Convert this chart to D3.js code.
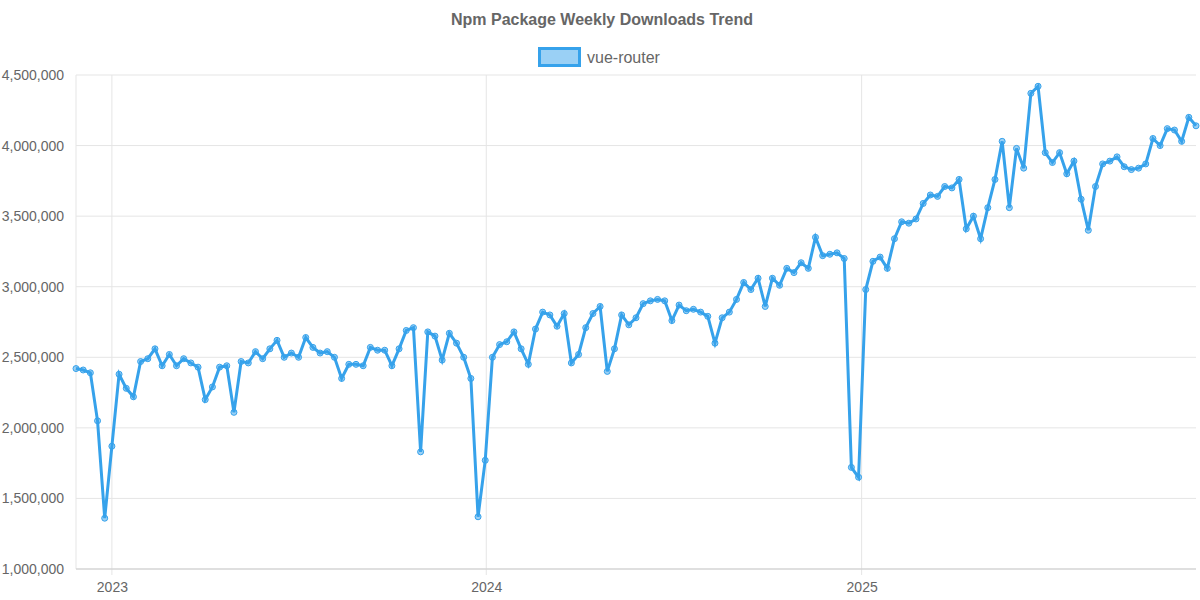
<!DOCTYPE html>
<html><head><meta charset="utf-8">
<script src="https://cdn.jsdelivr.net/npm/d3@7"></script>
<style>body{margin:0;background:#fff;font-family:"Liberation Sans",Arial,sans-serif}</style>
</head><body><svg id="c" width="1200" height="600"></svg>
<script>
const seriesName = "vue-router";
const startDate = "2022-11-27";
const values = [2.42,2.41,2.39,2.05,1.36,1.87,2.38,2.28,2.22,2.47,2.49,2.56,2.44,2.52,2.44,2.49,2.46,2.43,2.20,2.29,
2.43,2.44,2.11,2.47,2.46,2.54,2.49,2.56,2.62,2.50,2.53,2.50,2.64,2.57,2.53,2.54,2.50,2.35,2.45,2.45,
2.44,2.57,2.55,2.55,2.44,2.56,2.69,2.71,1.83,2.68,2.65,2.48,2.67,2.60,2.50,2.35,1.37,1.77,2.50,2.59,
2.61,2.68,2.56,2.45,2.70,2.82,2.80,2.72,2.81,2.46,2.52,2.71,2.81,2.86,2.40,2.56,2.80,2.73,2.78,2.88,
2.90,2.91,2.90,2.76,2.87,2.83,2.84,2.82,2.79,2.60,2.78,2.82,2.91,3.03,2.98,3.06,2.86,3.06,3.01,3.13,
3.10,3.17,3.13,3.35,3.22,3.23,3.24,3.20,1.72,1.65,2.98,3.18,3.21,3.13,3.34,3.46,3.45,3.48,3.59,3.65,
3.64,3.71,3.70,3.76,3.41,3.50,3.34,3.56,3.76,4.03,3.56,3.98,3.84,4.37,4.42,3.95,3.88,3.95,3.80,3.89,
3.62,3.40,3.71,3.87,3.89,3.92,3.85,3.83,3.84,3.87,4.05,4.00,4.12,4.11,4.03,4.20,4.14].map(v=>v*1e6);
const yTicks = [1000000,1500000,2000000,2500000,3000000,3500000,4000000,4500000];
const xTickYears = [2023,2024,2025];

const t0 = new Date(startDate+"T00:00:00");
const data = values.map((v,i)=>({d:new Date(t0.getTime()+i*7*864e5), v}));
const svg = d3.select("#c");
const L=76,R=1196,T=75,B=569;
const x = d3.scaleTime().domain(d3.extent(data,d=>d.d)).range([L,R]);
const y = d3.scaleLinear().domain([1000000,4500000]).range([B,T]);
const col="#36A2EB";

svg.append("text").attr("x",602).attr("y",25).attr("text-anchor","middle")
  .attr("font-size",16).attr("font-weight","bold").attr("fill","#666").text("Npm Package Weekly Downloads Trend");
svg.append("rect").attr("x",539.5).attr("y",48.5).attr("width",40).attr("height",17)
  .attr("fill","rgba(54,162,235,0.5)").attr("stroke",col).attr("stroke-width",3);
svg.append("text").attr("x",587).attr("y",63).attr("font-size",16).attr("fill","#666").text(seriesName);

// grid
svg.append("g").selectAll("line").data(yTicks).join("line")
  .attr("x1",L).attr("x2",R).attr("y1",d=>y(d)).attr("y2",d=>y(d)).attr("stroke","#e5e5e5");
const xt = xTickYears.map(yr=>new Date(yr,0,1));
svg.append("g").selectAll("line").data(xt).join("line")
  .attr("x1",d=>x(d)).attr("x2",d=>x(d)).attr("y1",T).attr("y2",B+6).attr("stroke","#e5e5e5");
svg.append("line").attr("x1",L).attr("x2",L).attr("y1",T).attr("y2",B).attr("stroke","#e5e5e5");
svg.append("line").attr("x1",L).attr("x2",R).attr("y1",B).attr("y2",B).attr("stroke","#ccc");

const yAxis = svg.append("g").attr("transform",`translate(${L},0)`)
  .call(d3.axisLeft(y).tickValues(yTicks).tickFormat(d3.format(",")).tickSize(0).tickPadding(12));
yAxis.select(".domain").remove();
yAxis.selectAll("text").attr("font-size",14).attr("fill","#666").attr("font-family","Liberation Sans, Arial");
const xAxis = svg.append("g").attr("transform",`translate(0,${B})`)
  .call(d3.axisBottom(x).tickValues(xt).tickFormat(d3.timeFormat("%Y")).tickSize(0).tickPadding(13));
xAxis.select(".domain").remove();
xAxis.selectAll("text").attr("font-size",14).attr("fill","#666").attr("font-family","Liberation Sans, Arial");

svg.append("path").datum(data).attr("fill","none").attr("stroke",col).attr("stroke-width",3)
  .attr("stroke-linejoin","miter").attr("d",d3.line().x(d=>x(d.d)).y(d=>y(d.v)));
svg.append("g").selectAll("circle").data(data).join("circle")
  .attr("cx",d=>x(d.d)).attr("cy",d=>y(d.v)).attr("r",3)
  .attr("fill","rgba(54,162,235,0.5)").attr("stroke",col).attr("stroke-width",1);
</script></body></html>
